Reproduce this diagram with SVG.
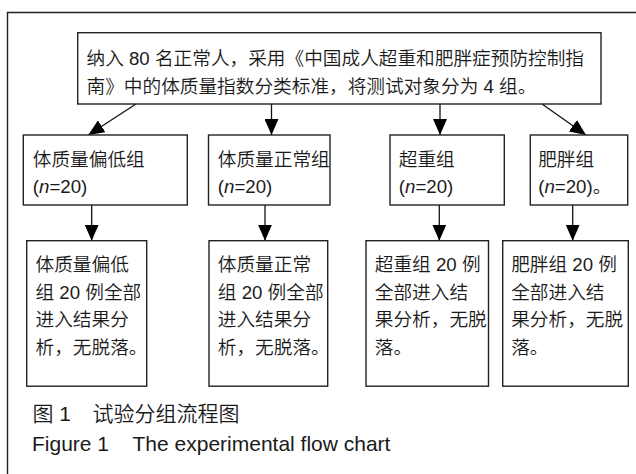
<svg xmlns="http://www.w3.org/2000/svg" width="636" height="474" viewBox="0 0 636 474">
  <style>
    .box { fill: #ffffff; stroke: #222222; stroke-width: 1.4; }
    .frame { fill: none; stroke: #222222; stroke-width: 1.4; }
    .edge { fill: none; stroke: #111111; stroke-width: 1.3; }
    .t { font-family: "Liberation Sans", "Noto Sans CJK SC", sans-serif; font-size: 18.67px; font-weight: 350; fill: #1a1a1a; }
    .cap { font-family: "Liberation Sans", "Noto Sans CJK SC", sans-serif; font-size: 21px; font-weight: 350; fill: #1a1a1a; }
    .it { font-style: italic; }
  </style>
  <defs>
    <marker id="arrow" viewBox="0 0 16 14" refX="16" refY="7" markerWidth="16" markerHeight="14" markerUnits="userSpaceOnUse" orient="auto">
      <path d="M0,0 L16,7 L0,14 Z" fill="#000000"/>
    </marker>
  </defs>

  <rect width="636" height="474" fill="#ffffff"/>
  <!-- outer frame (open at right and bottom) -->
  <path class="frame" d="M7.5,474 V12.5 H636"/>

  <!-- connectors -->
  <g id="connectors">
    <line class="edge" x1="136" y1="104" x2="88.3" y2="135" marker-end="url(#arrow)"/>
    <line class="edge" x1="271.5" y1="104" x2="271.5" y2="135" marker-end="url(#arrow)"/>
    <line class="edge" x1="440" y1="104" x2="440" y2="135" marker-end="url(#arrow)"/>
    <line class="edge" x1="542" y1="104" x2="586" y2="135" marker-end="url(#arrow)"/>
    <line class="edge" x1="91.7" y1="205" x2="91.7" y2="240.7" marker-end="url(#arrow)"/>
    <line class="edge" x1="265" y1="205" x2="265" y2="240.7" marker-end="url(#arrow)"/>
    <line class="edge" x1="439.3" y1="205" x2="439.3" y2="240.7" marker-end="url(#arrow)"/>
    <line class="edge" x1="572.7" y1="205" x2="572.7" y2="240.7" marker-end="url(#arrow)"/>
  </g>

  <!-- root node -->
  <g id="root">
    <rect class="box" x="77.7" y="32.7" width="523.3" height="71.3"/>
    <text class="t" x="86.5" y="65">纳入 80 名正常人，采用《中国成人超重和肥胖症预防控制指</text>
    <text class="t" x="86.5" y="93">南》中的体质量指数分类标准，将测试对象分为 4 组。</text>
  </g>

  <!-- group nodes -->
  <g id="group-low">
    <rect class="box" x="23.3" y="135" width="164" height="70"/>
    <text class="t" x="32.8" y="166">体质量偏低组</text>
    <text class="t" x="32.8" y="193">(<tspan class="it">n</tspan>=20)</text>
  </g>
  <g id="group-normal">
    <rect class="box" x="208.5" y="135" width="121.5" height="70"/>
    <text class="t" x="217.8" y="166">体质量正常组</text>
    <text class="t" x="217.8" y="193">(<tspan class="it">n</tspan>=20)</text>
  </g>
  <g id="group-over">
    <rect class="box" x="390" y="135" width="114.3" height="70"/>
    <text class="t" x="398.8" y="166">超重组</text>
    <text class="t" x="398.8" y="193">(<tspan class="it">n</tspan>=20)</text>
  </g>
  <g id="group-obese">
    <rect class="box" x="530.3" y="135" width="97.4" height="70"/>
    <text class="t" x="538.2" y="166">肥胖组</text>
    <text class="t" x="538.2" y="193">(<tspan class="it">n</tspan>=20)。</text>
  </g>

  <!-- outcome nodes -->
  <g id="result-low">
    <rect class="box" x="26.7" y="240.7" width="120" height="145.5"/>
    <text class="t" x="35.5" y="271">体质量偏低</text>
    <text class="t" x="35.5" y="298.5">组 20 例全部</text>
    <text class="t" x="35.5" y="326">进入结果分</text>
    <text class="t" x="35.5" y="353.5">析，无脱落。</text>
  </g>
  <g id="result-normal">
    <rect class="box" x="209" y="240.7" width="118.7" height="145.5"/>
    <text class="t" x="217.8" y="271">体质量正常</text>
    <text class="t" x="217.8" y="298.5">组 20 例全部</text>
    <text class="t" x="217.8" y="326">进入结果分</text>
    <text class="t" x="217.8" y="353.5">析，无脱落。</text>
  </g>
  <g id="result-over">
    <rect class="box" x="366" y="240.7" width="122.5" height="145.5"/>
    <text class="t" x="374.8" y="271">超重组 20 例</text>
    <text class="t" x="374.8" y="298.5">全部进入结</text>
    <text class="t" x="374.8" y="326">果分析，无脱</text>
    <text class="t" x="374.8" y="353.5">落。</text>
  </g>
  <g id="result-obese">
    <rect class="box" x="502.7" y="240.7" width="125.6" height="145.5"/>
    <text class="t" x="511.2" y="271">肥胖组 20 例</text>
    <text class="t" x="511.2" y="298.5">全部进入结</text>
    <text class="t" x="511.2" y="326">果分析，无脱</text>
    <text class="t" x="511.2" y="353.5">落。</text>
  </g>

  <!-- caption -->
  <g id="caption">
    <text class="cap" x="32.5" y="421">图 1<tspan x="92.5">试验分组流程图</tspan></text>
    <text class="cap" x="32" y="451">Figure 1<tspan x="132.5">The experimental flow chart</tspan></text>
  </g>
</svg>
